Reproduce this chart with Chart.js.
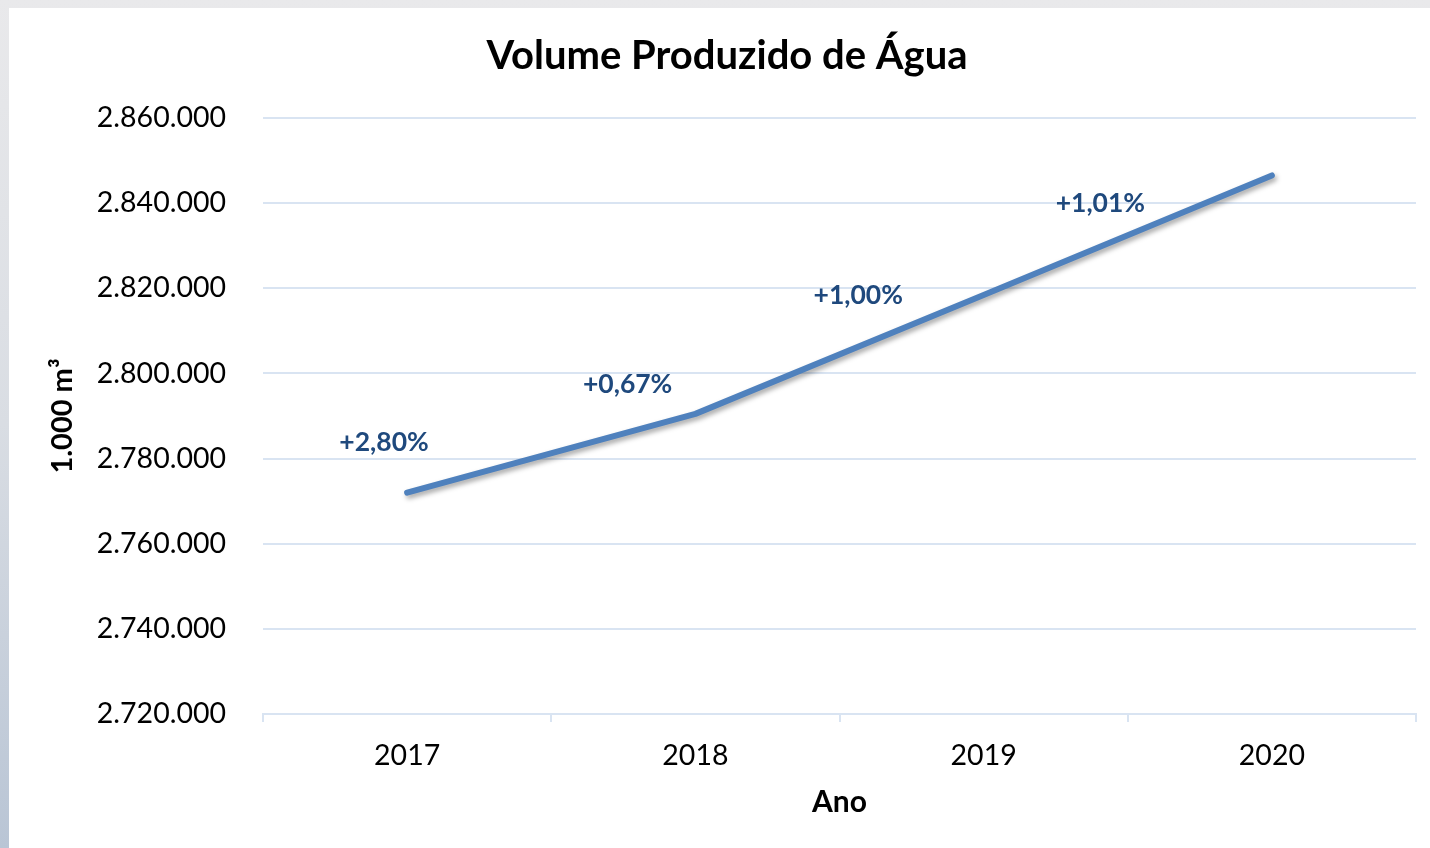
<!DOCTYPE html>
<html>
<head>
<meta charset="utf-8">
<script src="https://cdn.jsdelivr.net/npm/chart.js"></script>
<style>
  html, body { margin: 0; padding: 0; }
  body {
    width: 1430px; height: 848px; overflow: hidden;
    background: linear-gradient(to bottom, #e9e9eb 0%, #d9dde3 50%, #b9c5d5 100%);
    position: relative;
  }
  #wrap { position: absolute; left: 9px; top: 8px; width: 1421px; height: 840px; background: #fff; }
</style>
</head>
<body>
<div id="wrap"><canvas id="volChart" width="1421" height="840"></canvas></div>
<script>
// Volume produzido de água (1.000 m³)
const years = ['2017', '2018', '2019', '2020'];
const volume = [2772000, 2790500, 2818400, 2846500];
const variation = ['+2,80%', '+0,67%', '+1,00%', '+1,01%'];
const yTicks = [2720000, 2740000, 2760000, 2780000, 2800000, 2820000, 2840000, 2860000];

const FONT = 'Lato, "Open Sans", sans-serif';
const GRID = '#d9e4f2';

// where the % labels sit (fractional category index, value) - Excel put them by hand
const labelSpots = [[-0.08, 2783700], [0.765, 2797500], [1.565, 2818300], [2.405, 2839900]];

const lineShadow = {
    id: 'lineShadow',
    beforeDatasetDraw(chart) {
        const c = chart.ctx;
        c.save();
        c.shadowColor = 'rgba(0,0,0,0.35)';
        c.shadowBlur = 5;
        c.shadowOffsetX = 2;
        c.shadowOffsetY = 3;
    },
    afterDatasetDraw(chart) {
        chart.ctx.restore();
    }
};

const pctLabels = {
    id: 'pctLabels',
    afterDatasetsDraw(chart) {
        const c = chart.ctx;
        const xs = chart.scales.x, ys = chart.scales.y;
        c.save();
        c.font = 'bold 26.5px ' + FONT;
        c.fillStyle = '#1f497d';
        c.textAlign = 'center';
        c.textBaseline = 'middle';
        variation.forEach((t, i) => {
            const p = labelSpots[i];
            c.fillText(t, xs.getPixelForValue(p[0]), ys.getPixelForValue(p[1]));
        });
        c.restore();
    }
};

new Chart(document.getElementById('volChart'), {
    type: 'line',
    data: {
        labels: years,
        datasets: [{
            data: volume,
            borderColor: '#4f81bd',
            borderWidth: 6,
            borderCapStyle: 'round',
            borderJoinStyle: 'round',
            pointRadius: 0,
            tension: 0,
            fill: false
        }]
    },
    options: {
        responsive: false,
        animation: false,
        layout: { padding: { left: 29, right: 14, top: 0, bottom: 0 } },
        plugins: {
            legend: { display: false },
            tooltip: { enabled: false },
            title: {
                display: true,
                text: 'Volume Produzido de Água',
                color: '#000',
                font: { family: FONT, size: 40, weight: 'bold', lineHeight: 1.2 },
                padding: { top: 24, bottom: 38 }
            }
        },
        scales: {
            x: {
                offset: true,
                grid: { offset: true, drawOnChartArea: false, drawTicks: true, tickLength: 8, color: GRID, lineWidth: 2 },
                border: { color: GRID, width: 2 },
                ticks: { color: '#000', font: { family: FONT, size: 28.5 }, padding: 17 },
                title: {
                    display: true, text: 'Ano', color: '#000',
                    font: { family: FONT, size: 30, weight: 'bold', lineHeight: 1.2 },
                    padding: { top: 28, bottom: 28 }
                },
                afterFit(s) { s.height = 134; }
            },
            y: {
                min: 2720000,
                max: 2860000,
                afterBuildTicks(s) { s.ticks = yTicks.map(v => ({ value: v })); },
                grid: { color: GRID, lineWidth: 2, drawTicks: false },
                border: { display: false },
                ticks: {
                    color: '#000', font: { family: FONT, size: 28.5 }, padding: 37,
                    callback: v => v.toLocaleString('de-DE')
                },
                title: {
                    display: true, text: '1.000 m³', color: '#000',
                    font: { family: FONT, size: 29, weight: 'bold', lineHeight: 1.2 },
                    padding: { top: 7, bottom: 7 }
                },
                afterFit(s) { s.width = 225; }
            }
        }
    },
    plugins: [lineShadow, pctLabels]
});
</script>
</body>
</html>
